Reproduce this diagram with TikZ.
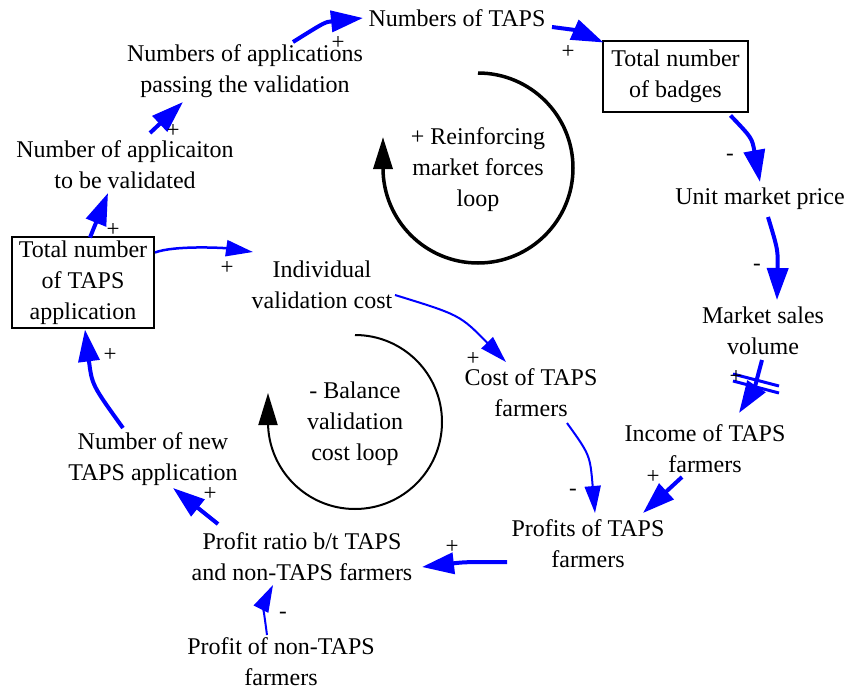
\documentclass[tikz,border=0pt]{standalone}
\usepackage{fontspec}
\setmainfont{Liberation Serif}
\usetikzlibrary{arrows.meta,calc}
\begin{document}
\begin{tikzpicture}[x=1pt,y=-1pt,
 lbl/.style={align=center,inner sep=0pt,font=\fontsize{24}{31}\selectfont},
 boxed/.style={lbl,draw=black,line width=2pt},
 pol/.style={inner sep=0pt,font=\fontsize{23}{26}\selectfont},
 thickarr/.style={draw=blue,line width=4pt,-{Triangle[length=32pt,width=21pt]}},
 thinarr/.style={draw=blue,line width=2pt,-{Triangle[length=27pt,width=16pt]}},
 looparr/.style={draw=black,-{Triangle[length=32pt,width=19pt]}},
 ]
\useasboundingbox (0,0) rectangle (847,691);

% variables
\node[lbl] (tapsnum) at (457,18) {Numbers of TAPS};
\node[lbl] (passing) at (245,71) {Numbers of applications\\passing the validation};
\node[boxed,minimum width=145pt,minimum height=71pt] (badges) at (675.5,76.5) {Total number\\of badges};
\node[lbl] (tobeval) at (125,165) {Number of applicaiton\\to be validated};
\node[boxed,minimum width=142pt,minimum height=91pt] (totalapp) at (83,282.5) {Total number\\of TAPS\\application};
\node[lbl] (indiv) at (322,285) {Individual\\validation cost};
\node[lbl] (unit) at (760,199) {Unit market price};
\node[lbl] (market) at (763,331) {Market sales\\volume};
\node[lbl] (cost) at (531,393) {Cost of TAPS\\farmers};
\node[lbl] (income) at (705,449) {Income of TAPS\\farmers};
\node[lbl] (profits) at (588,544) {Profits of TAPS\\farmers};
\node[lbl] (ratio) at (302,557) {Profit ratio b/t TAPS\\and non-TAPS  farmers};
\node[lbl] (newapp) at (153,459) {Number of new\\TAPS application};
\node[lbl] (nontaps) at (281,662) {Profit of non-TAPS\\farmers};
\node[lbl] (rloop) at (478,170) {+ Reinforcing\\market forces\\loop};
\node[lbl] (bloop) at (355,424) {- Balance\\validation\\cost loop};

% loops
\draw[looparr,line width=3.5pt] ($(rloop)+(0,-97)$) arc[start angle=-90,end angle=180,radius=95] -- ++(0,-31);
\draw[looparr,line width=2pt] ($(bloop)+(0,-89)$) arc[start angle=-90,end angle=180,radius=87] -- ++(0,-29);

% links
\draw[thickarr] ($(passing)+(48,-29)$) .. controls (325,22) .. ($(tapsnum)+(-94,0)$);
\draw[thickarr] ($(tapsnum)+(95,9)$) .. controls (575,30) .. ($(badges)+(-72,-34)$);
\draw[thickarr] ($(badges)+(55,39)$) .. controls (752,138) .. ($(unit)+(0,-17)$);
\draw[thickarr] ($(unit)+(8,18)$) .. controls (778,250) .. ($(market)+(14,-31)$);
\draw[thickarr] ($(market)+(-1,29)$) .. controls (754,390) .. ($(income)+(34,-36)$);
\draw[thickarr] ($(income)+(-23,28)$) -- ($(profits)+(55,-31)$);
\draw[thinarr] ($(cost)+(36,30)$) .. controls (590,455) .. ($(profits)+(7,-31)$);
\draw[thinarr] ($(indiv)+(73,10)$) .. controls (460,315) .. ($(cost)+(-25,-31)$);
\draw[thickarr] ($(profits)+(-81,18)$) .. controls (465,562) .. ($(ratio)+(120,10)$);
\draw[thickarr] ($(ratio)+(-84,-33)$) -- ($(newapp)+(20,29)$);
\draw[thinarr] ($(nontaps)+(-14,-27)$) .. controls (263,605) .. ($(ratio)+(-29,28)$);
\draw[thickarr] ($(newapp)+(-30,-31)$) .. controls (92,385) .. ($(totalapp)+(2,47)$);
\draw[thickarr] ($(totalapp)+(7,-45)$) -- ($(tobeval)+(-17,28)$);
\draw[thinarr,line width=2.5pt] ($(totalapp)+(72,-30)$) .. controls (175,245) and (225,248) .. ($(indiv)+(-69,-33)$);
\draw[thickarr] ($(tobeval)+(25,-32)$) -- ($(passing)+(-62,31)$);

% delay mark
\draw[blue,line width=3pt] (733,374) -- (779,386);
\draw[blue,line width=3pt] (733,381) -- (779,393);

% polarities
\node[pol] (p1) at (338,43) {+};
\node[pol] (p2) at (568,52) {+};
\node[pol] (p3) at (730,157) {-};
\node[pol] (p4) at (757,267) {-};
\node[pol] (p5) at (736,377) {+};
\node[pol] (p6) at (653,477) {+};
\node[pol] (p7) at (573,492) {-};
\node[pol] (p8) at (473,359) {+};
\node[pol] (p9) at (452,547) {+};
\node[pol] (p10) at (210,494) {+};
\node[pol] (p11) at (283,615) {-};
\node[pol] (p12) at (110,355) {+};
\node[pol] (p13) at (113,230) {+};
\node[pol] (p14) at (227,268) {+};
\node[pol] (p15) at (173,131) {+};
\end{tikzpicture}
\end{document}
